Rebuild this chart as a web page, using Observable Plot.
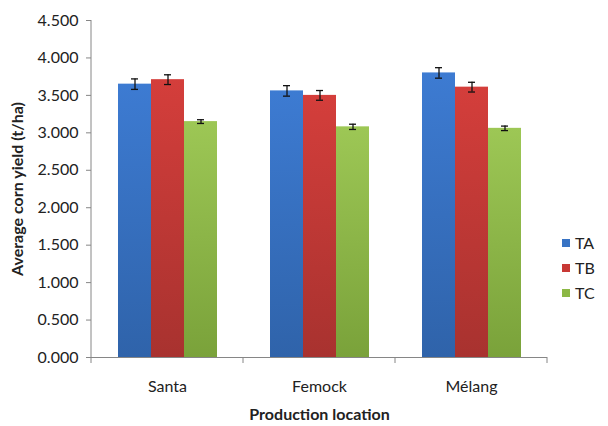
<!DOCTYPE html>
<html><head><meta charset="utf-8">
<script src="https://cdn.jsdelivr.net/npm/d3@7"></script>
<script src="https://cdn.jsdelivr.net/npm/@observablehq/plot@0.6"></script>
<style>
body{margin:0;background:#fff;}
#wrap{position:relative;width:608px;height:426px;font-family:Lato,sans-serif;}
#legend{position:absolute;left:562px;top:230px;font-size:16px;color:#222;}
.item{display:flex;align-items:center;height:25px;white-space:nowrap;}
.sw{width:8px;height:8px;margin-right:5px;}
</style></head><body><div id="wrap"><div id="legend"></div></div>
<script>
const locations = ["Santa", "Femock", "Mélang"];
const treatments = ["TA", "TB", "TC"];
const yieldTA = [3.65, 3.56, 3.80];
const yieldTB = [3.71, 3.50, 3.61];
const yieldTC = [3.15, 3.08, 3.06];
const errTA = [0.07, 0.07, 0.07];
const errTB = [0.065, 0.065, 0.065];
const errTC = [0.025, 0.035, 0.03];
const yTicks = [0, 0.5, 1, 1.5, 2, 2.5, 3, 3.5, 4, 4.5];
const swatch = {TA: "#3873c4", TB: "#c83835", TC: "#8cb845"};
const grad = {TA: ["#3d7bd2", "#2f63aa"], TB: ["#d43e3b", "#a8322f"], TC: ["#9dc755", "#7aa23a"]};

const vals = {TA: yieldTA, TB: yieldTB, TC: yieldTC};
const errs = {TA: errTA, TB: errTB, TC: errTC};
const data = [];
locations.forEach((loc, i) => treatments.forEach(t => data.push({location: loc, treatment: t, value: vals[t][i], err: errs[t][i]})));

const plot = Plot.plot({
  width: 608, height: 426,
  marginLeft: 91, marginRight: 61, marginTop: 20, marginBottom: 69,
  style: {fontFamily: "Lato, sans-serif", fontSize: "16px", color: "#222", background: "#fff"},
  fx: {domain: locations, padding: 0, axis: null},
  x: {domain: treatments, paddingInner: 0, paddingOuter: 0.75, axis: null},
  y: {domain: [0, 4.5]},
  color: {domain: treatments, range: treatments.map(t => `url(#g${t})`)},
  marks: [
    Plot.barY(data, {fx: "location", x: "treatment", y: "value", fill: "treatment"}),
    Plot.ruleY([0], {stroke: "#868686"}),
    Plot.ruleX(data, {fx: "location", x: "treatment", y1: d => d.value - d.err, y2: d => d.value + d.err, stroke: "#111", strokeWidth: 1.3}),
    Plot.tickY(data, {fx: "location", x: "treatment", y: d => d.value + d.err, stroke: "#111", strokeWidth: 1.3, insetLeft: 13, insetRight: 13}),
    Plot.tickY(data, {fx: "location", x: "treatment", y: d => d.value - d.err, stroke: "#111", strokeWidth: 1.3, insetLeft: 13, insetRight: 13}),
    Plot.axisY({ticks: yTicks, tickFormat: d3.format(".3f"), tickSize: 5, tickPadding: 8, stroke: "#868686", fill: "#222",
      label: "Average corn yield (t/ha)", labelAnchor: "center", labelOffset: 80, labelArrow: "none"}),
    Plot.axisFx({anchor: "bottom", tickSize: 0, tickPadding: 23, fill: "#222",
      label: "Production location", labelAnchor: "center", labelOffset: 62, labelArrow: "none"})
  ]
});

const svg = d3.select(plot);
const defs = svg.insert("defs", ":first-child");
treatments.forEach(t => {
  const g = defs.append("linearGradient").attr("id", `g${t}`).attr("x1", 0).attr("y1", 0).attr("x2", 0).attr("y2", 1);
  g.append("stop").attr("offset", "0%").attr("stop-color", grad[t][0]);
  g.append("stop").attr("offset", "100%").attr("stop-color", grad[t][1]);
});
svg.selectAll('g[aria-label="y-axis label"], g[aria-label="fx-axis label"]').attr("font-size", "16px").attr("font-weight", "bold");
svg.selectAll('g[aria-label="y-axis label"] text, g[aria-label="fx-axis label"] text').attr("font-size", "16px").attr("font-weight", "bold");

const ys = plot.scale("y"), fxs = plot.scale("fx");
const y0 = ys.apply(0), yTop = ys.apply(4.5);
const x0 = fxs.apply(locations[0]);
const axes = svg.append("g").attr("stroke", "#868686");
axes.append("line").attr("x1", x0).attr("x2", x0).attr("y1", yTop).attr("y2", y0);
const edges = locations.map(l => fxs.apply(l)).concat([fxs.apply(locations[locations.length - 1]) + fxs.bandwidth]);
edges.forEach(e => axes.append("line").attr("x1", e).attr("x2", e).attr("y1", y0).attr("y2", y0 + 6));

const wrap = document.getElementById("wrap");
wrap.insertBefore(plot, wrap.firstChild);
const legend = d3.select("#legend");
treatments.forEach(t => {
  const it = legend.append("div").attr("class", "item");
  it.append("div").attr("class", "sw").style("background", swatch[t]);
  it.append("span").text(t);
});
</script></body></html>
